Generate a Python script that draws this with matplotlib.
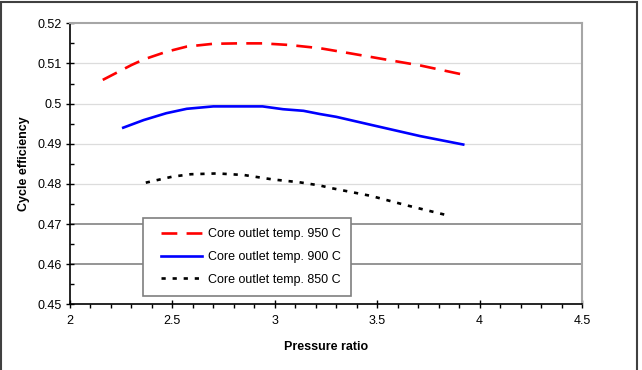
import matplotlib
matplotlib.use("Agg")
import numpy as np
import matplotlib.pyplot as plt
from matplotlib.ticker import MultipleLocator
from matplotlib.patches import Rectangle
from matplotlib.lines import Line2D
from matplotlib.legend_handler import HandlerLine2D

plt.rcParams['font.family'] = ['Liberation Sans', 'DejaVu Sans']

# Data
x950 = [2.16, 2.30, 2.36, 2.47, 2.57, 2.70, 2.82, 2.94, 3.07, 3.22, 3.37, 3.55, 3.71, 3.93]
y950 = [0.5059, 0.5096, 0.5110, 0.5129, 0.5142, 0.5149, 0.5150, 0.5150, 0.5146, 0.5138, 0.5125, 0.5109, 0.5095, 0.5071]

x900 = [2.26, 2.36, 2.47, 2.57, 2.70, 2.82, 2.94, 3.04, 3.14, 3.22, 3.30, 3.47, 3.71, 3.92]
y900 = [0.4940, 0.4959, 0.4976, 0.4987, 0.4993, 0.4993, 0.4993, 0.4986, 0.4982, 0.4974, 0.4967, 0.4947, 0.4919, 0.4898]

x850 = [2.37, 2.50, 2.59, 2.72, 2.85, 2.99, 3.12, 3.22, 3.27, 3.47, 3.64, 3.84]
y850 = [0.4803, 0.4818, 0.4824, 0.4826, 0.4822, 0.4811, 0.4804, 0.4796, 0.4790, 0.4770, 0.4747, 0.4722]

labels = ["Core outlet temp. 950 C", "Core outlet temp. 900 C", "Core outlet temp. 850 C"]
xticks = [2, 2.5, 3, 3.5, 4, 4.5]
yticks = [0.45, 0.46, 0.47, 0.48, 0.49, 0.50, 0.51, 0.52]
ytick_labels = ["0.45", "0.46", "0.47", "0.48", "0.49", "0.5", "0.51", "0.52"]
xtick_labels = ["2", "2.5", "3", "3.5", "4", "4.5"]


class ShiftedLineHandler(HandlerLine2D):
    """Legend line that leaves a small blank margin before it."""
    def __init__(self, shift_px, **kw):
        super().__init__(**kw)
        self.shift_px = shift_px

    def create_artists(self, legend, orig_handle, xdescent, ydescent, width,
                       height, fontsize, trans):
        arts = super().create_artists(legend, orig_handle, xdescent, ydescent,
                                      width, height, fontsize, trans)
        shift = self.shift_px * 72.0 / legend.figure.dpi
        for a in arts:
            if isinstance(a, Line2D):
                xd = np.asarray(a.get_xdata(), dtype=float)
                if len(xd) >= 2:
                    a.set_xdata(np.linspace(xd.min() + shift, xd.max(), len(xd)))
        return arts


W, H = 642, 370
fig = plt.figure(figsize=(W/100, H/100), dpi=100)
ax = fig.add_axes([70/W, 1-304.3/H, (582-70)/W, (304.3-23.3)/H])

# figure border (bottom edge cropped)
fig.patches.append(Rectangle((1.5/W, -0.05), (636.5-1.5)/W, (1 - 1.5/H) + 0.05,
                             transform=fig.transFigure, fill=False,
                             edgecolor='#404040', linewidth=1.5))

# gridlines
for yv in yticks[1:-1]:
    dark = yv in (0.46, 0.47)
    ax.axhline(yv, color='#8c8c8c' if dark else '#dcdcdc',
               linewidth=1.3 if dark else 0.9, zorder=0)

lw = 1.9
l1, = ax.plot(x950, y950, color='#ff0000', linewidth=lw, linestyle=(0, (6, 3.5)), label=labels[0])
l2, = ax.plot(x900, y900, color='#0000ff', linewidth=lw, linestyle='-', label=labels[1])
l3, = ax.plot(x850, y850, color='#000000', linewidth=lw, linestyle=(0, (1.6, 2.6)), label=labels[2])

ax.set_xlim(2, 4.5)
ax.set_ylim(0.45, 0.52)
ax.set_xticks(xticks)
ax.set_xticklabels(xtick_labels)
ax.set_yticks(yticks)
ax.set_yticklabels(ytick_labels)
ax.xaxis.set_minor_locator(MultipleLocator(0.1))
ax.yaxis.set_minor_locator(MultipleLocator(0.005))
ax.tick_params(axis='both', which='major', direction='inout', length=6, width=1,
               labelsize=9, color='black', pad=3)
ax.tick_params(axis='x', which='minor', direction='out', length=3, width=1, color='black')
ax.tick_params(axis='y', which='minor', direction='in', length=3, width=1, color='black')
ax.tick_params(axis='x', which='major', pad=5)

for s in ['top', 'right']:
    ax.spines[s].set_color('#a6a6a6')
    ax.spines[s].set_linewidth(1.5)
for s in ['left', 'bottom']:
    ax.spines[s].set_color('black')
    ax.spines[s].set_linewidth(1.2)

ax.set_xlabel("Pressure ratio", fontsize=9, fontweight='bold', labelpad=10)
ax.set_ylabel("Cycle efficiency", fontsize=9, fontweight='bold', labelpad=5)

hm = {l: ShiftedLineHandler(8) for l in (l1, l2, l3)}
leg = ax.legend(loc='upper left',
                bbox_to_anchor=((143.3-70)/(582-70), (304.3-218.3)/(304.3-23.3)),
                fontsize=9, frameon=True, fancybox=False, framealpha=1,
                edgecolor='#7f7f7f', handlelength=3.9, handletextpad=0.45,
                labelspacing=0.85, borderpad=0.8, borderaxespad=0,
                handler_map=hm)
leg.get_frame().set_linewidth(1.2)

fig.savefig("out.png", dpi=100)
